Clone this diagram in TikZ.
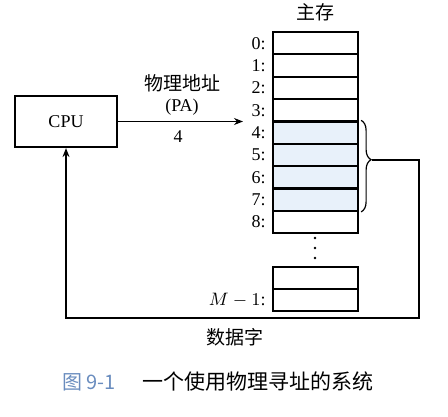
\documentclass[tikz,border=0pt]{standalone}
\usepackage{fontspec}
\setmainfont{Liberation Serif}
\newfontfamily\cjk{Noto Sans CJK SC}
\usepackage{xcolor}
\usetikzlibrary{arrows.meta,positioning,decorations.pathreplacing}

\definecolor{memfill}{RGB}{232,241,250}
\definecolor{capblue}{RGB}{105,140,190}

\tikzset{
    box/.style={draw, line width=1.1pt, inner sep=0pt},
    cell/.style={box, minimum width=42.5pt, minimum height=11.17pt},
    lbl/.style={inner sep=0pt, font=\fontsize{9}{10}\selectfont},
    zh/.style={inner sep=0pt, font=\fontsize{9.5}{11}\cjk},
    wire/.style={line width=0.6pt},
    arr/.style={wire, -{Stealth[length=4.5pt,width=3.5pt]}}
}

\begin{document}
\begin{tikzpicture}[x=0.5pt, y=-0.5pt]
    \useasboundingbox (0,0) rectangle (448,416);

    % CPU
    \node[box, minimum width=51pt, minimum height=25.5pt, font=\fontsize{9}{10}\selectfont] (cpu) at (66,121.5) {CPU};

    % main memory cells
    \foreach \i/\c in {0/white,1/white,2/white,3/white,4/memfill,5/memfill,6/memfill,7/memfill,8/white} {
        \node[cell, fill=\c] (m\i) at (315.5, {43.2+22.35*\i}) {};
        \node[lbl, left=3pt of m\i] {\i:};
    }
    \node[zh, above=5pt of m0] (mem) {主存};

    \foreach \y in {238,248,258}
        \fill (315,\y) circle (0.7pt);

    \node[cell] (ma) at (315.5,278) {};
    \node[cell] (mb) at (315.5,300) {};
    \node[lbl, left=3pt of mb] {$M-1$:};

    % physical address
    \coordinate (pa) at (243,121.5);
    \draw[arr] (cpu.east) -- (pa);
    \node[zh] (pa1) at (182,83) {物理地址};
    \node[lbl] (pa2) at (182,107) {(PA)};
    \node[lbl] (pa3) at (178,137) {4};

    % data word back to CPU
    \draw[wire, decorate, decoration={brace, amplitude=5pt, aspect=0.43}]
        (m4.north east) ++(2,0) -- ([xshift=1pt]m7.south east);
    \coordinate (tip) at (372,160);
    \coordinate (corner) at (419,318);
    \draw[arr] (tip) -| (corner) -| (cpu.south);
    \node[zh] (dw) at (235,337) {数据字};

    % caption
    \node[inner sep=0pt, font=\fontsize{10}{12}\cjk, text=capblue] (fig) at (89,382) {图 9-1};
    \node[inner sep=0pt, font=\fontsize{10.5}{12}\cjk] (cap) at (258,382) {一个使用物理寻址的系统};
\end{tikzpicture}
\end{document}
